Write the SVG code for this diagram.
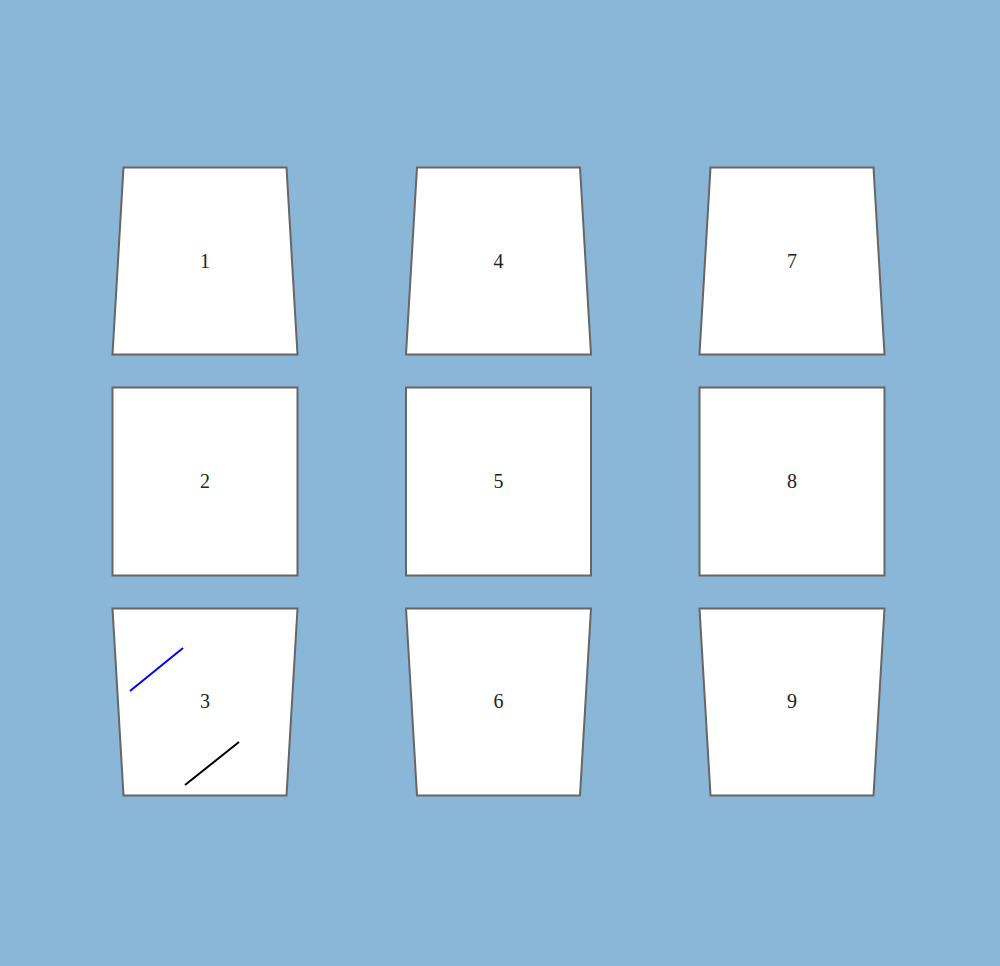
<svg xmlns="http://www.w3.org/2000/svg" width="1000" height="966" viewBox="0 0 1000 966">
<style>
.n{fill:#fff;stroke:#666;stroke-width:2}
.t{font-family:"Liberation Serif",serif;font-size:20px;fill:#222;text-anchor:middle;dominant-baseline:central}
</style>
<rect width="1000" height="966" fill="#8ab7d8"/>
<g id="node1"><polygon class="n" points="123.5,167.5 286.5,167.5 297.5,354.5 112.5,354.5"/><text class="t" x="205" y="261">1</text></g>
<g id="node2"><rect class="n" x="112.5" y="387.5" width="185" height="188"/><text class="t" x="205" y="481">2</text></g>
<g id="node3"><polygon class="n" points="112.5,608.5 297.5,608.5 286.5,795.5 123.5,795.5"/><text class="t" x="205" y="701">3</text></g>
<g id="node4"><polygon class="n" points="417,167.5 580,167.5 591,354.5 406,354.5"/><text class="t" x="498.5" y="261">4</text></g>
<g id="node5"><rect class="n" x="406" y="387.5" width="185" height="188"/><text class="t" x="498.5" y="481">5</text></g>
<g id="node6"><polygon class="n" points="406,608.5 591,608.5 580,795.5 417,795.5"/><text class="t" x="498.5" y="701">6</text></g>
<g id="node7"><polygon class="n" points="710.5,167.5 873.5,167.5 884.5,354.5 699.5,354.5"/><text class="t" x="792" y="261">7</text></g>
<g id="node8"><rect class="n" x="699.5" y="387.5" width="185" height="188"/><text class="t" x="792" y="481">8</text></g>
<g id="node9"><polygon class="n" points="699.5,608.5 884.5,608.5 873.5,795.5 710.5,795.5"/><text class="t" x="792" y="701">9</text></g>
<g id="connectors">
<line x1="130" y1="691" x2="183" y2="648" stroke="#0000ff" stroke-width="2"/>
<line x1="185" y1="785" x2="239" y2="742" stroke="#000" stroke-width="2"/>
</g>
</svg>
